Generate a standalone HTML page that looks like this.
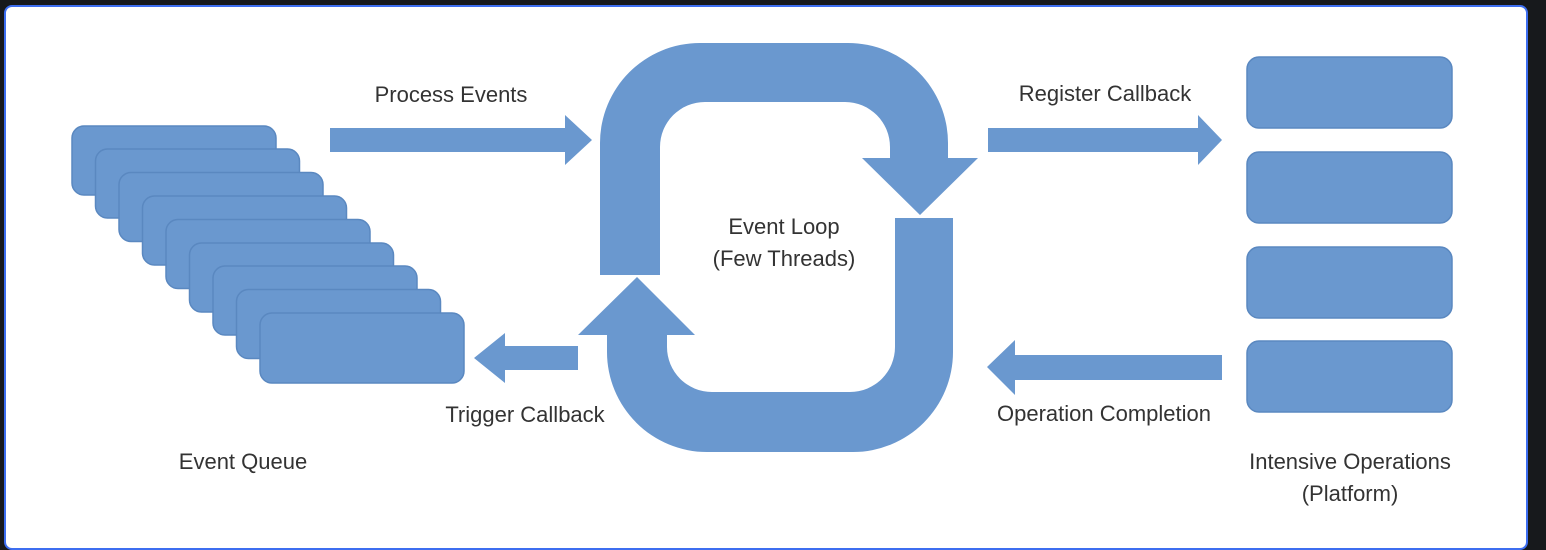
<!DOCTYPE html>
<html><head><meta charset="utf-8"><style>
html,body{margin:0;padding:0;background:#17191c;}
#wrap{position:absolute;left:4px;top:5px;width:1520px;height:541px;background:#fff;border:2px solid #3d6ef0;border-radius:8px;}
svg{position:absolute;left:0;top:0;}
text{font-family:"Liberation Sans",sans-serif;font-size:22px;fill:#333;}
</style></head><body>
<div id="wrap"></div>
<svg width="1546" height="550" viewBox="0 0 1546 550">
<g fill="#6a98cf" stroke="#5a88c0" stroke-width="1.5">
<rect x="72" y="126" width="204" height="69" rx="12"/>
<rect x="95.5" y="149" width="204" height="69" rx="12"/>
<rect x="119" y="172.5" width="204" height="69" rx="12"/>
<rect x="142.5" y="196" width="204" height="69" rx="12"/>
<rect x="166" y="219.5" width="204" height="69" rx="12"/>
<rect x="189.5" y="243" width="204" height="69" rx="12"/>
<rect x="213" y="266" width="204" height="69" rx="12"/>
<rect x="236.5" y="289.5" width="204" height="69" rx="12"/>
<rect x="260" y="313" width="204" height="70" rx="12"/>
<rect x="1247" y="57" width="205" height="71" rx="12"/>
<rect x="1247" y="152" width="205" height="71" rx="12"/>
<rect x="1247" y="247" width="205" height="71" rx="12"/>
<rect x="1247" y="341" width="205" height="71" rx="12"/>
</g>
<g fill="#6a98cf">
<polygon points="330,128 565,128 565,115 592,140 565,165 565,152 330,152"/>
<polygon points="988,128 1198,128 1198,115 1222,140 1198,165 1198,152 988,152"/>
<polygon points="578,346 505,346 505,333 474,358 505,383 505,370 578,370"/>
<polygon points="1222,355 1015,355 1015,340 987,367 1015,395 1015,380 1222,380"/>
<path d="M600,275 L600,143 A100,100 0 0 1 700,43 L848,43 A100,100 0 0 1 948,143 L948,158 L978,158 L920,215 L862,158 L890,158 L890,147 A45,45 0 0 0 845,102 L705,102 A45,45 0 0 0 660,147 L660,275 Z"/>
<path d="M895,218 L953,218 L953,352 A100,100 0 0 1 853,452 L707,452 A100,100 0 0 1 607,352 L607,335 L578,335 L637,277 L695,335 L667,335 L667,347 A45,45 0 0 0 712,392 L850,392 A45,45 0 0 0 895,347 Z"/>
</g>
<text x="451" y="102" text-anchor="middle">Process Events</text>
<text x="1105" y="101" text-anchor="middle">Register Callback</text>
<text x="784" y="234" text-anchor="middle">Event Loop</text>
<text x="784" y="266" text-anchor="middle">(Few Threads)</text>
<text x="525" y="422" text-anchor="middle">Trigger Callback</text>
<text x="1104" y="421" text-anchor="middle">Operation Completion</text>
<text x="243" y="469" text-anchor="middle">Event Queue</text>
<text x="1350" y="469" text-anchor="middle">Intensive Operations</text>
<text x="1350" y="501" text-anchor="middle">(Platform)</text>
</svg>
</body></html>
